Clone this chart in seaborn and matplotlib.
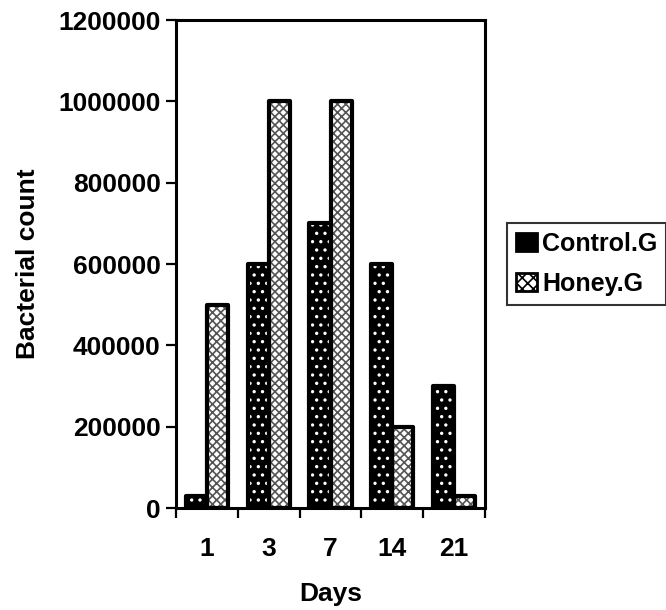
import pandas as pd
import matplotlib.pyplot as plt
import seaborn as sns
from matplotlib.patches import Patch, Rectangle

# dados
days = ['1', '3', '7', '14', '21']
control_g = [30000, 600000, 700000, 600000, 300000]
honey_g = [500000, 1000000, 1000000, 200000, 30000]
groups = ['Control.G', 'Honey.G']
yticks = [0, 200000, 400000, 600000, 800000, 1000000, 1200000]

df = pd.DataFrame({
    'Days': days * 2,
    'count': control_g + honey_g,
    'group': [groups[0]] * len(days) + [groups[1]] * len(days),
})

sns.set_style('white')
plt.rcParams['font.family'] = ['Liberation Sans', 'DejaVu Sans']
plt.rcParams['font.weight'] = 'bold'
plt.rcParams['text.color'] = 'black'
plt.rcParams['axes.labelcolor'] = 'black'
plt.rcParams['xtick.color'] = 'black'
plt.rcParams['ytick.color'] = 'black'
plt.rcParams['hatch.linewidth'] = 1.2

fig = plt.figure(figsize=(6.66, 6.10), dpi=100)
ax = fig.add_axes([176 / 666, 1 - 508 / 610, (485 - 176) / 666, (508 - 20) / 610])

sns.barplot(data=df, x='Days', y='count', hue='group', order=days,
            hue_order=groups, width=0.68, legend=False, ax=ax)

# estilos: fundo, cor da textura, textura
styles = [('black', 'white', '..'), ('white', '#555555', 'xxxx')]
for cont, (fc, hc, hatch) in zip(ax.containers, styles):
    for p in cont:
        p.set_facecolor(fc)
        p.set_edgecolor(hc)
        p.set_hatch(hatch)
        p.set_linewidth(0)
        ax.add_patch(Rectangle(p.get_xy(), p.get_width(), p.get_height(),
                               facecolor='none', edgecolor='black',
                               linewidth=3, joinstyle='round', zorder=3))

ax.set_ylim(0, 1200000)
ax.set_xlim(-0.5, len(days) - 0.5)
ax.set_yticks(yticks)
ax.set_yticklabels([str(v) for v in yticks])
ax.set_xticks(range(len(days)))
ax.set_xticklabels(days)
ax.set_xticks([i - 0.5 for i in range(len(days) + 1)], minor=True)

for s in ax.spines.values():
    s.set_visible(True)
    s.set_color('black')
    s.set_linewidth(2.2)

ax.tick_params(axis='y', which='major', left=True, length=7, width=1.6,
               direction='out', pad=4, labelsize=19)
ax.tick_params(axis='x', which='major', bottom=True, length=0, pad=21,
               labelsize=19)
ax.tick_params(axis='x', which='minor', bottom=True, length=7, width=1.6,
               direction='out')

ax.set_xlabel('Days', fontsize=19, fontweight='bold', labelpad=15)
ax.set_ylabel('Bacterial count', fontsize=19, fontweight='bold', labelpad=13)

handles = [Patch(facecolor='black', edgecolor='black', linewidth=2),
           Patch(facecolor='white', edgecolor='black', hatch='xxx', linewidth=2)]
leg = fig.legend(handles, groups, loc='upper left',
                 bbox_to_anchor=(507 / 666, 1 - 223 / 610),
                 prop={'size': 18, 'weight': 'bold'}, frameon=True,
                 fancybox=False, handlelength=0.85, handleheight=0.75,
                 handletextpad=0.2, borderpad=0.35, labelspacing=0.65,
                 borderaxespad=0)
leg.get_frame().set_edgecolor('black')
leg.get_frame().set_linewidth(1.5)

plt.savefig('out.png', dpi=100)
